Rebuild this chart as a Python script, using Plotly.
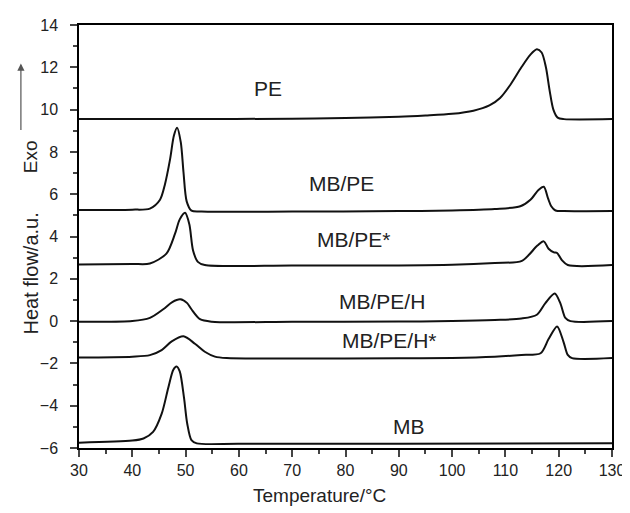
import plotly.graph_objects as go

# DSC cooling curves
pe_t = [30, 50, 70, 80, 90, 95, 100, 104, 107, 109, 111, 113, 114.7, 115.9, 116.8, 117.6, 118.3, 119.0, 119.8, 121, 130]
pe_v = [9.55, 9.55, 9.57, 9.6, 9.66, 9.72, 9.8, 9.95, 10.2, 10.55, 11.2, 12.0, 12.6, 12.85, 12.7, 12.0, 10.9, 10.0, 9.62, 9.55, 9.55]

mbpe_t = [30, 40, 43.3, 45.2, 46.1, 47.1, 47.8, 48.4, 49.1, 49.6, 50.2, 51.1, 53, 70, 90, 100, 108,
          112.8, 114.7, 116.2, 117.2, 118.0, 118.6, 119.4, 121, 130]
mbpe_v = [5.25, 5.27, 5.32, 5.74, 6.44, 7.67, 8.76, 9.14, 8.45, 7.05, 5.66, 5.22, 5.18, 5.18, 5.2, 5.23, 5.3,
          5.43, 5.74, 6.2, 6.35, 5.8, 5.43, 5.23, 5.2, 5.2]

mbpes_t = [30, 40, 43.3, 46.4, 48.0, 48.9, 49.9, 50.7, 51.4, 52.3, 53.6, 70, 90, 100, 108,
           113.1, 116, 117.2, 118.1, 119.1, 119.7, 120.6, 121.7, 130]
mbpes_v = [2.68, 2.7, 2.72, 3.19, 4.12, 4.81, 5.12, 4.58, 3.34, 2.8, 2.65, 2.63, 2.63, 2.66, 2.75,
           2.85, 3.57, 3.77, 3.42, 3.25, 3.22, 2.88, 2.65, 2.65]

mbpeh_t = [30, 40, 43.3, 45.8, 47.5, 49.0, 50.3, 51.1, 52.7, 54.9, 70, 90, 100, 108,
           113, 115.9, 117.5, 119.25, 120.3, 121.25, 122.2, 130]
mbpeh_v = [-0.03, 0.0, 0.15, 0.56, 0.9, 1.03, 0.85, 0.56, 0.09, -0.03, -0.03, -0.02, 0.0, 0.05,
           0.12, 0.3, 0.85, 1.3, 0.85, 0.15, 0.0, 0.0]

mbpehs_t = [30, 40, 43.3, 45.5, 47.4, 49.6, 51.75, 53.6, 55.5, 57.7, 70, 90, 100, 108,
            113, 116.6, 118.1, 119.7, 120.9, 121.7, 122.5, 130]
mbpehs_v = [-1.72, -1.68, -1.61, -1.37, -0.96, -0.72, -1.07, -1.45, -1.68, -1.75, -1.77, -1.76, -1.74, -1.68,
            -1.6, -1.52, -0.85, -0.25, -0.98, -1.6, -1.75, -1.75]

mb_t = [30, 40, 42.1, 43.9, 45.5, 46.75, 47.7, 48.3, 48.9, 49.7, 50.3, 51.1, 52.1, 60, 90, 130]
mb_v = [-5.75, -5.65, -5.55, -5.24, -4.39, -3.15, -2.3, -2.15, -2.38, -3.62, -4.84, -5.63, -5.78, -5.8, -5.8, -5.78]

series = [("PE", pe_t, pe_v), ("MB/PE", mbpe_t, mbpe_v), ("MB/PE*", mbpes_t, mbpes_v),
          ("MB/PE/H", mbpeh_t, mbpeh_v), ("MB/PE/H*", mbpehs_t, mbpehs_v), ("MB", mb_t, mb_v)]

# label positions (temperature, heat flow)
label_names = ["PE", "MB/PE", "MB/PE*", "MB/PE/H", "MB/PE/H*", "MB"]
label_t = [65.5, 79.2, 81.5, 86.8, 88.3, 92.0]
label_v = [11.0, 6.5, 3.85, 0.95, -0.9, -5.0]

FONT = "Liberation Sans, Arial, sans-serif"

fig = go.Figure()
for name, t, v in series:
    fig.add_trace(go.Scatter(x=t, y=v, mode="lines", name=name,
                             line=dict(color="#111111", width=2, shape="spline", smoothing=0.8)))

for name, t, v in zip(label_names, label_t, label_v):
    fig.add_annotation(x=t, y=v, text=name, showarrow=False,
                       font=dict(family=FONT, size=21, color="#222222"))

# axis titles, "Exo" and its arrow
fig.add_annotation(xref="paper", yref="paper", x=0.452, y=-0.142, yanchor="bottom",
                   text="Temperature/°C", showarrow=False,
                   font=dict(family=FONT, size=19, color="#222222"))
fig.add_annotation(xref="paper", yref="paper", x=-0.114, y=0.413, text="Heat flow/a.u.",
                   textangle=-90, showarrow=False, font=dict(family=FONT, size=20, color="#222222"))
fig.add_annotation(xref="paper", yref="paper", x=-0.114, y=0.733, text="Exo",
                   textangle=-90, showarrow=False, font=dict(family=FONT, size=19, color="#222222"))
fig.add_annotation(xref="paper", yref="paper", x=-0.109, y=0.909, text="",
                   showarrow=True, ax=0, ay=68, arrowhead=2, arrowsize=1.2,
                   arrowwidth=1.2, arrowcolor="#555555")

# the page body adds an 8px offset, margins are shifted to compensate
fig.update_layout(
    width=630, height=513,
    margin=dict(l=71, r=26, t=9, b=73),
    plot_bgcolor="white", paper_bgcolor="white",
    showlegend=False,
    font=dict(family=FONT, size=16, color="#222222"),
    xaxis=dict(range=[30, 130], dtick=10, tick0=30, ticks="outside", ticklen=7, tickwidth=1.5,
               minor=dict(dtick=5, ticks="outside", ticklen=4, tickwidth=1.5),
               showline=True, linecolor="black", linewidth=1.5, mirror=True,
               showgrid=False, zeroline=False),
    yaxis=dict(range=[-6, 14], dtick=2, ticks="outside", ticklen=7, tickwidth=1.5,
               minor=dict(dtick=1, ticks="outside", ticklen=4, tickwidth=1.5),
               showline=True, linecolor="black", linewidth=1.5, mirror=True,
               showgrid=False, zeroline=False, ticklabelstandoff=9),
)

fig.write_html("out.html")
